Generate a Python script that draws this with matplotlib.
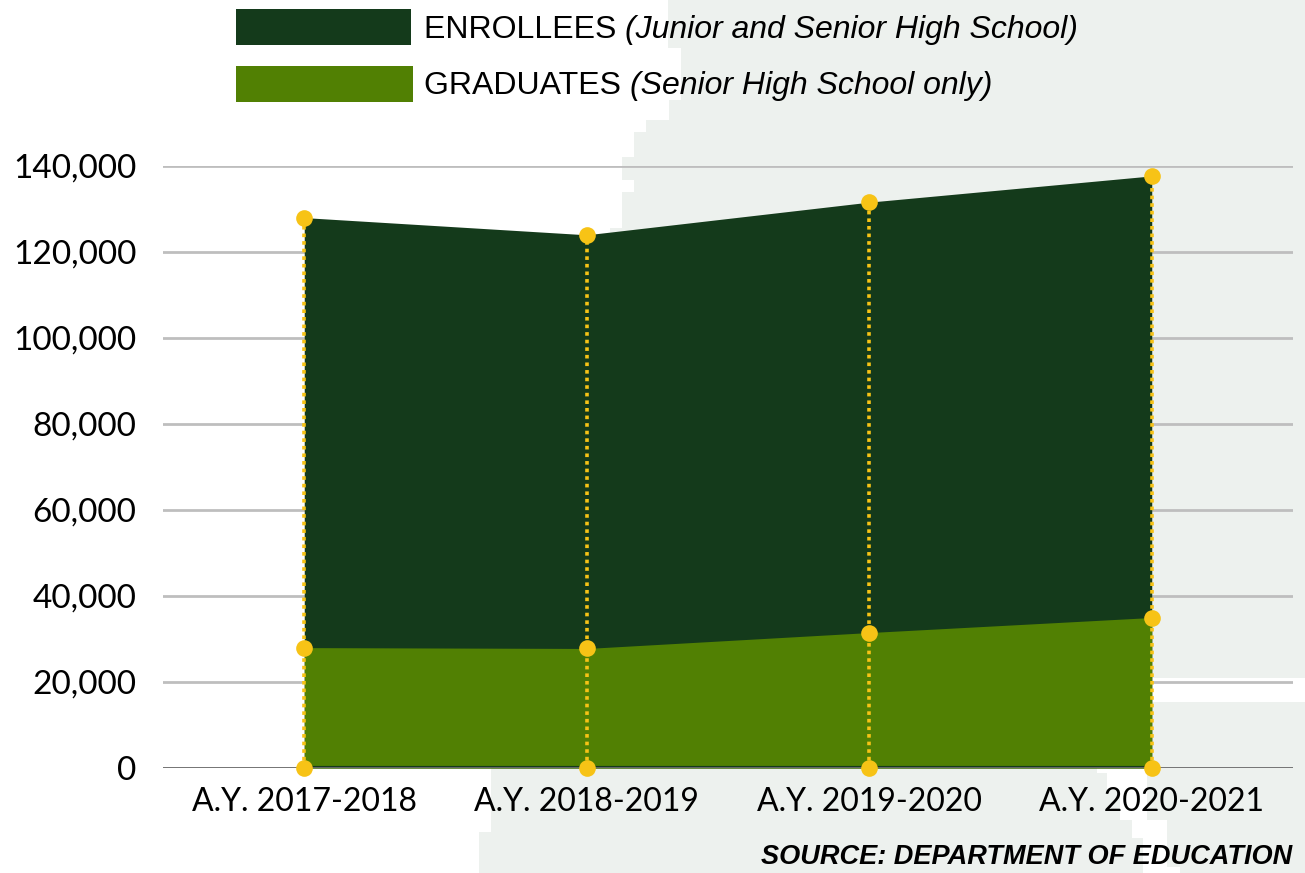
import matplotlib
matplotlib.use("Agg")
import matplotlib.pyplot as plt
from matplotlib.patches import Polygon, Rectangle
from matplotlib.ticker import FuncFormatter

# data
years = ["A.Y. 2017-2018", "A.Y. 2018-2019", "A.Y. 2019-2020", "A.Y. 2020-2021"]
enrollees = [128000, 124000, 131600, 137700]
graduates = [28000, 27800, 31500, 35000]
y_ticks = [0, 20000, 40000, 60000, 80000, 100000, 120000, 140000]

legend_main = ["ENROLLEES ", "GRADUATES "]
legend_note = ["(Junior and Senior High School)", "(Senior High School only)"]
source_text = "SOURCE: DEPARTMENT OF EDUCATION"

DARK = "#143A1B"
LIGHT = "#518003"
GOLD = "#F7C316"
PAPER = "#EDF1EE"
TICK_FONT = "Lato"
TEXT_FONT = "Liberation Sans"

W, H = 1305, 873
fig = plt.figure(figsize=(W / 100, H / 100), dpi=100)


def px(points):
    # pixel coords (top-left origin) -> figure fraction
    return [(x / W, 1 - y / H) for x, y in points]


# torn paper patch behind the right part of the chart
paper_outline = [
    (668, 0), (1305, 0), (1305, 873), (479, 873), (479, 832), (491, 832),
    (491, 770), (610, 240), (610, 228), (622, 228), (622, 192), (634, 192),
    (634, 180), (622, 180), (622, 157), (634, 157), (634, 132), (646, 132),
    (646, 120), (669, 120), (669, 100), (681, 100), (681, 48), (668, 48),
]
fig.patches.append(Polygon(px(paper_outline), closed=True, transform=fig.transFigure,
                           facecolor=PAPER, edgecolor="none", zorder=-3))
tear = [
    (1097, 768), (1147, 768), (1147, 820), (1167, 820), (1167, 867), (1180, 867),
    (1180, 873), (1143, 873), (1143, 838), (1132, 838), (1132, 820), (1120, 820),
    (1120, 790), (1107, 790), (1107, 773), (1097, 773),
]
fig.patches.append(Polygon(px(tear), closed=True, transform=fig.transFigure,
                           facecolor="white", edgecolor="none", zorder=-2))
fig.patches.append(Rectangle((1152 / W, 1 - 702 / H), (W - 1152) / W, 24 / H,
                             transform=fig.transFigure, facecolor="white",
                             edgecolor="none", zorder=-2))

ax = fig.add_axes([163 / W, 105 / H, (1293 - 163) / W, (768 - 166) / H])
ax.set_facecolor("none")

x = list(range(len(years)))
ax.fill_between(x, 0, enrollees, color=DARK, lw=0, zorder=2)
ax.fill_between(x, 0, graduates, color=LIGHT, lw=0, zorder=3)
ax.plot([x[0], x[-1]], [0, 0], color=DARK, lw=3, zorder=3.5)

for i in x:
    ax.plot([i, i], [0, enrollees[i]], color=GOLD, lw=2.6, linestyle=(0, (1, 1.1)),
            zorder=5, clip_on=False)
    ax.plot([i, i, i], [0, graduates[i], enrollees[i]], "o", color=GOLD, ms=12,
            mec="none", zorder=6, clip_on=False)

ax.set_xlim(-0.5, 3.5)
ax.set_ylim(0, 140000)
ax.set_xticks(x)
ax.set_xticklabels(years)
ax.set_yticks(y_ticks)
ax.yaxis.set_major_formatter(FuncFormatter(lambda v, _: f"{int(v):,}"))
ax.set_axisbelow(True)
ax.grid(axis="y", color="#BEBEBE", lw=2)
ax.grid(axis="x", visible=False)
ax.axhline(0, color="#6E6E6E", lw=2, zorder=4)
for s in ax.spines.values():
    s.set_visible(False)
ax.tick_params(length=0)
ax.tick_params(axis="y", pad=19)
ax.tick_params(axis="x", pad=14)
for lab in ax.get_xticklabels():
    lab.set_family(TICK_FONT)
    lab.set_fontsize(23)
for lab in ax.get_yticklabels():
    lab.set_family(TICK_FONT)
    lab.set_fontsize(24)

# legend drawn by hand
swatches = [(236, 9, 411, 45, DARK), (236, 66, 413, 102, LIGHT)]
baselines = [38, 94]
renderer = fig.canvas.get_renderer()
for (x0, y0, x1, y1, col), yb, main, note in zip(swatches, baselines, legend_main, legend_note):
    fig.patches.append(Rectangle((x0 / W, 1 - y1 / H), (x1 - x0) / W, (y1 - y0) / H,
                                 transform=fig.transFigure, facecolor=col,
                                 edgecolor="none"))
    t = fig.text(424 / W, 1 - yb / H, main, family=TEXT_FONT, fontsize=23,
                 ha="left", va="baseline")
    bb = t.get_window_extent(renderer)
    fig.text(bb.x1 / W, 1 - yb / H, note, family=TEXT_FONT, fontsize=23,
             style="italic", ha="left", va="baseline")

fig.text(1292 / W, 1 - 864 / H, source_text, family=TEXT_FONT, fontsize=19.5,
         fontweight="bold", style="italic", ha="right", va="baseline")

fig.savefig("out.png", dpi=100)
